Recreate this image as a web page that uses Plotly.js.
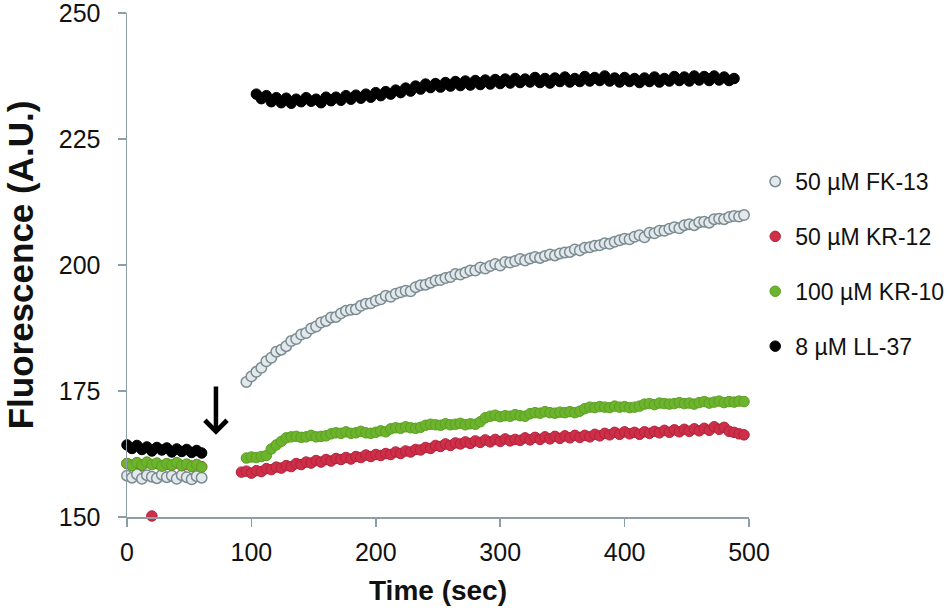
<!DOCTYPE html>
<html><head><meta charset="utf-8">
<script src="https://cdn.plot.ly/plotly-3.0.1.min.js"></script>
<style>html,body{margin:0;padding:0;background:#fff}#chart{width:949px;height:614px}</style>
</head><body><div id="chart"></div>
<script>
// time (s)
const tPre = [0,4,8,12,16,20,24,28,32,36,40,44,48,52,56,60];
const tPost = [92,96,100,104,108,112,116,120,124,128,132,136,140,144,148,152,156,160,164,168,
172,176,180,184,188,192,196,200,204,208,212,216,220,224,228,232,236,240,244,248,
252,256,260,264,268,272,276,280,284,288,292,296,300,304,308,312,316,320,324,328,
332,336,340,344,348,352,356,360,364,368,372,376,380,384,388,392,396,400,404,408,
412,416,420,424,428,432,436,440,444,448,452,456,460,464,468,472,476,480,484,488,492,496];

const seriesNames = ['50 µM FK-13','50 µM KR-12','100 µM KR-10','8 µM LL-37'];

const fk13Pre = [158.2,157.8,158.5,157.6,158.3,158.0,157.7,158.4,157.9,158.2,157.6,158.3,157.9,157.5,158.1,157.8];
const fk13Post = [null,176.8,177.9,178.8,179.6,180.9,181.6,182.8,183.2,183.9,
184.9,185.3,186.2,186.5,187.4,187.8,188.6,188.9,189.6,189.7,
190.4,190.9,191.1,191.2,191.9,192.3,192.4,192.9,193.2,193.9,
193.7,194.3,194.6,194.9,194.8,195.6,196.0,196.1,196.5,196.9,
197.0,197.4,197.6,198.2,198.1,198.5,198.9,198.9,199.5,199.3,
199.8,200.2,199.9,200.6,200.5,200.8,201.2,200.9,201.3,201.6,
201.4,201.8,202.1,201.9,202.3,202.5,202.6,203.1,202.9,203.4,
203.5,203.8,203.9,204.3,204.2,204.6,204.9,205.2,205.1,205.6,
205.9,205.5,206.4,206.3,206.8,206.8,207.2,207.5,207.3,207.9,
208.1,207.9,208.5,208.6,208.4,209.1,209.2,209.1,209.5,209.7,
209.6,209.9];

const kr12Pre = [160.6,160.3,160.7,160.3,160.8,150.2,160.6,160.2,160.5,160.3,160.7,160.2,160.4,160.1,160.4,160.0];
const kr12Post = [158.9,159.1,158.7,159.2,159.0,159.6,159.4,159.9,159.7,160.2,
160.0,160.6,160.4,160.9,160.7,161.2,160.9,161.4,161.1,161.6,
161.4,161.8,161.5,162.0,161.8,162.3,162.0,162.4,162.2,162.6,
162.4,162.9,162.6,163.1,162.9,163.4,163.3,163.8,163.6,164.2,
164.0,164.5,164.2,164.7,164.5,164.9,164.6,165.1,164.8,165.3,
164.9,165.4,165.0,165.5,165.1,165.4,165.2,165.7,165.3,165.8,
165.4,165.9,165.5,166.0,165.6,166.1,165.7,166.2,165.8,166.2,
165.9,166.4,166.1,166.6,166.3,166.8,166.4,166.9,166.5,166.8,
166.4,166.9,166.6,167.0,166.7,167.2,166.8,167.3,166.9,167.4,
167.0,167.5,167.1,167.6,167.2,167.9,167.4,167.8,167.0,166.8,
166.5,166.3];

const kr10Pre = [160.6,160.2,160.8,160.3,160.9,160.4,160.7,160.1,160.6,160.3,160.8,160.2,160.5,160.0,160.4,159.9];
const kr10Post = [null,161.7,161.9,161.8,162.0,162.2,163.5,164.3,165.0,165.7,
165.9,166.0,165.8,165.9,166.2,165.9,166.0,166.1,166.5,166.7,
166.6,166.9,166.6,166.7,167.0,166.7,166.6,166.8,167.1,166.9,
167.5,167.7,167.6,167.9,167.7,167.6,167.8,168.2,168.4,168.3,
168.2,168.5,168.3,168.4,168.6,168.3,168.5,168.4,168.9,169.7,
170.0,170.2,169.9,170.1,170.0,170.3,170.1,170.0,170.5,170.7,
170.6,170.9,170.7,170.6,170.8,170.7,170.9,170.7,171.0,171.5,
171.8,171.7,171.9,171.8,171.7,172.0,171.8,171.9,171.7,171.8,
172.0,172.4,172.5,172.3,172.6,172.5,172.4,172.5,172.7,172.5,
172.6,172.4,172.7,172.9,172.6,172.8,173.0,172.7,172.9,172.8,
173.0,172.9];

const ll37Pre = [164.3,163.6,164.2,163.4,163.9,163.1,163.8,163.3,163.7,162.9,163.5,163.0,163.4,162.8,163.2,162.7];
const ll37Post = [null,null,null,233.9,233.0,233.6,232.4,233.2,232.2,233.1,
232.1,232.9,232.4,233.2,232.5,232.9,232.2,233.3,232.6,233.3,
232.7,233.6,232.9,233.7,233.1,233.9,233.3,234.2,233.6,234.4,
233.9,234.7,234.2,235.1,234.5,235.5,234.9,235.9,235.2,236.0,
235.3,236.2,235.5,236.4,235.6,236.5,235.7,236.6,235.8,236.7,
235.9,236.8,236.0,236.9,236.1,237.0,236.2,236.9,236.3,237.2,
236.2,237.0,236.1,237.1,236.4,237.3,236.3,237.0,236.4,237.4,
236.5,237.2,236.6,237.5,236.5,237.1,236.3,237.2,236.4,237.0,
236.2,237.1,236.4,237.3,236.3,237.0,236.5,237.4,236.6,237.3,
236.5,237.5,236.7,237.4,236.6,237.5,236.7,237.3,236.6,237.0,
null,null];

const xTicks = [0,100,200,300,400,500];
const yTicks = [150,175,200,225,250];
// injection arrow (time, from / to fluorescence)
const arrowTime = 71.5, arrowFrom = 176.2, arrowTo = 166.3;

const styles = [
  {fill:'#e3e9eb', line:'#7a8b93', lw:1.5},
  {fill:'#cf2e48', line:'#b0233b', lw:1},
  {fill:'#6cb42c', line:'#5c9e24', lw:1},
  {fill:'#000000', line:'#000000', lw:1}
];
const preData = [fk13Pre, kr12Pre, kr10Pre, ll37Pre];
const postData = [fk13Post, kr12Post, kr10Post, ll37Post];

const traces = seriesNames.map((n, i) => ({
  type:'scatter', mode:'markers', name:n, legendgroup:'g'+i,
  x: tPre.concat(tPost), y: preData[i].concat(postData[i]),
  cliponaxis:false,
  marker:{size:10.5, color:styles[i].fill, line:{color:styles[i].line, width:styles[i].lw}}
}));

const axColor = '#8d9ea7';
const layout = {
  width:949, height:614,
  margin:{l:127, r:200, t:13, b:97, pad:0, autoexpand:false},
  paper_bgcolor:'#fff', plot_bgcolor:'#fff',
  font:{family:'Liberation Sans, Arial, sans-serif', color:'#111', size:25},
  showlegend:true,
  xaxis:{range:[0,500], tickvals:xTicks, showgrid:false, zeroline:false, showline:true,
    linecolor:axColor, linewidth:1.5, ticks:'outside', ticklen:8, tickwidth:1.5, tickcolor:axColor,
    tickfont:{size:25, color:'#111'}, ticklabelstandoff:4, ticklabeloverflow:'allow',
    title:{text:'Time (sec)', font:{size:28, weight:700, color:'#111'}, standoff:16}},
  yaxis:{range:[150,250], tickvals:yTicks, showgrid:false, zeroline:false, showline:true,
    linecolor:axColor, linewidth:1.5, ticks:'outside', ticklen:8, tickwidth:1.5, tickcolor:axColor,
    tickfont:{size:25, color:'#111'}, ticklabelstandoff:12, ticklabeloverflow:'allow',
    title:{text:'Fluorescence (A.U.)', font:{size:35, weight:700, color:'#111'}, standoff:14}},
  legend:{x:1.01, xanchor:'left', y:0.502, yanchor:'middle', font:{size:23, color:'#111'},
    traceorder:'grouped', tracegroupgap:22, bgcolor:'rgba(0,0,0,0)'},
  annotations:[{x:arrowTime, y:arrowTo, ax:arrowTime, ay:arrowFrom, xref:'x', yref:'y', axref:'x', ayref:'y',
    text:'', showarrow:true, arrowhead:4, arrowsize:0.95, arrowwidth:4.5, arrowcolor:'#000', standoff:0}]
};
Plotly.newPlot('chart', traces, layout, {displayModeBar:false, staticPlot:true});
</script></body></html>
